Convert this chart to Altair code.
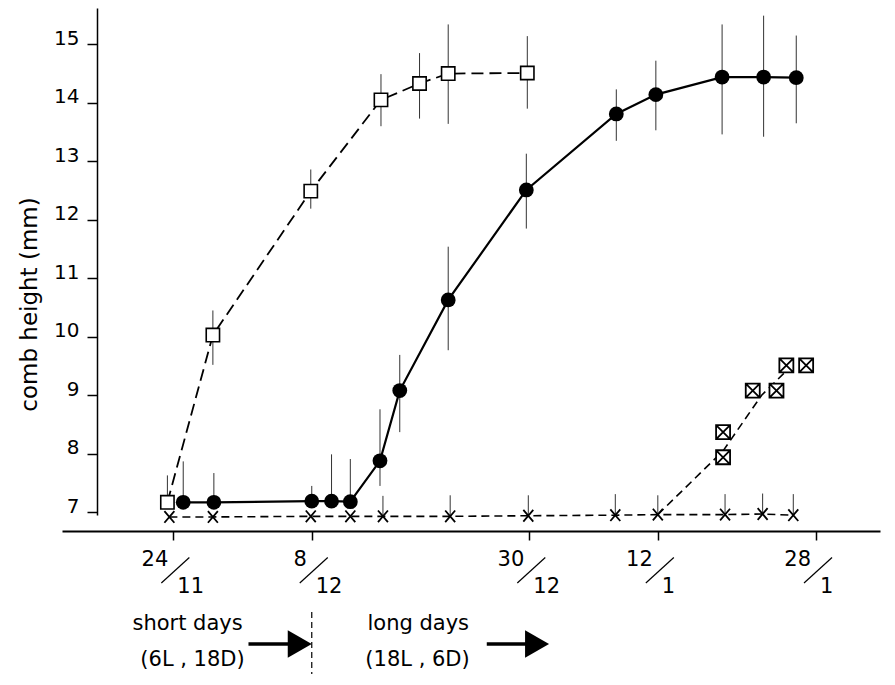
import altair as alt
import pandas as pd

# ---- data (x = days counted from 24/11, y = comb height in mm) ----
sq_day = [-0.6, 4.0, 13.9, 21.0, 24.9, 27.8, 35.8]
sq_val = [7.17, 10.03, 12.49, 14.05, 14.33, 14.50, 14.51]
sq_hi = [7.63, 10.45, 12.86, 14.49, 14.85, 15.34, 15.14]
sq_lo = [7.17, 9.52, 12.19, 13.60, 13.73, 13.64, 13.90]

ci_day = [1.0, 4.1, 14.0, 16.0, 17.9, 20.9, 22.9, 27.8, 35.7, 44.8, 48.8, 55.5, 59.7, 63.0]
ci_val = [7.17, 7.17, 7.19, 7.19, 7.18, 7.88, 9.08, 10.63, 12.51, 13.81, 14.14, 14.44, 14.44, 14.43]
ci_hi = [7.87, 7.67, 7.45, 7.99, 7.91, 8.76, 9.69, 11.54, 13.13, 14.23, 14.72, 15.34, 15.49, 15.15]
ci_lo = [7.17, 7.17, 7.19, 7.19, 7.18, 7.45, 8.37, 9.77, 11.85, 13.35, 13.53, 13.46, 13.42, 13.65]

x_day = [-0.4, 4.0, 13.9, 17.9, 21.2, 28.0, 35.9, 44.7, 49.0, 55.8, 59.6, 62.7]
x_val = [6.92, 6.92, 6.93, 6.93, 6.93, 6.93, 6.94, 6.95, 6.96, 6.96, 6.97, 6.95]
x_hi = [6.92, 6.92, 6.93, 6.93, 7.28, 7.29, 7.29, 7.31, 7.29, 7.31, 7.32, 7.31]

cx_day = [55.6, 55.6, 58.6, 61.0, 62.0, 64.0]
cx_val = [8.37, 7.94, 9.08, 9.08, 9.51, 9.51]
cx_line_day = [49.0, 55.6, 59.5, 62.2]
cx_line_val = [6.96, 8.05, 9.00, 9.45]

tick_days = [0, 14, 36, 49, 65]
tick_num = ["24", "8", "30", "12", "28"]
tick_den = ["11", "12", "12", "1", "1"]
y_ticks = [7, 8, 9, 10, 11, 12, 13, 14, 15]

switch_day = [14]
ann_top = ["short  days", "long  days"]
ann_top_day = [1.44, 24.77]
ann_bot = ["(6L , 18D)", "(18L , 6D)"]
ann_bot_day = [1.94, 24.7]
arrow_start = [7.6, 31.7]
arrow_tip = [14.0, 38.0]

# ---- frames ----
df_sq = pd.DataFrame({"day": sq_day, "val": sq_val, "hi": sq_hi, "lo": sq_lo})
df_ci = pd.DataFrame({"day": ci_day, "val": ci_val, "hi": ci_hi, "lo": ci_lo})
df_x = pd.DataFrame({"day": x_day, "val": x_val, "hi": x_hi, "lo": x_val})
df_cx = pd.DataFrame({"day": cx_day, "val": cx_val})
df_cxl = pd.DataFrame({"day": cx_line_day, "val": cx_line_val})
df_ticks = pd.DataFrame({"day": tick_days, "num": tick_num, "den": tick_den})
df_sw = pd.DataFrame({"day": switch_day})
df_top = pd.DataFrame({"day": ann_top_day, "t": ann_top})
df_bot = pd.DataFrame({"day": ann_bot_day, "t": ann_bot})
df_arr = pd.DataFrame({"start": arrow_start, "tip": arrow_tip})

FONT = "DejaVu Sans"
xscale = alt.Scale(domain=[-11.26, 71.47], nice=False, zero=False)
yscale = alt.Scale(domain=[6.953, 15.621], nice=False, zero=False)
xaxis = alt.Axis(values=tick_days, labels=False, title=None, grid=False,
                 tickSize=9, tickWidth=1.5, tickColor="black",
                 domainColor="black", domainWidth=2, offset=16)
yaxis = alt.Axis(values=y_ticks, title="comb height  (mm)", grid=False,
                 tickSize=10, tickWidth=1.5, tickColor="black",
                 domainColor="black", domainWidth=1.5, offset=-35,
                 labelFont=FONT, labelFontSize=20, labelColor="black",
                 labelBaseline="alphabetic", labelAlign="right", labelPadding=8,
                 labelOverlap=False,
                 titleFont=FONT, titleFontSize=23, titleFontWeight="normal",
                 titleColor="black", titleX=-61, titleY=296,
                 titleAlign="center", titleBaseline="alphabetic")


def X(f):
    return alt.X(f + ":Q", scale=xscale, axis=xaxis)


def Y(f):
    return alt.Y(f + ":Q", scale=yscale, axis=yaxis)


X_PATH = "M-0.85,-1L0.85,1M0.85,-1L-0.85,1"
CX_PATH = "M-1,-1L1,-1L1,1L-1,1ZM-1,-1L1,1M1,-1L-1,1"
ARROW_PATH = "M-1,-1.15L1,0L-1,1.15Z"

layers = []
# lines
layers.append(alt.Chart(df_x).mark_line(color="black", strokeWidth=1.6, strokeDash=[8, 5])
              .encode(x=X("day"), y=Y("val")))
layers.append(alt.Chart(df_cxl).mark_line(color="black", strokeWidth=1.6, strokeDash=[8, 5])
              .encode(x=X("day"), y=Y("val")))
layers.append(alt.Chart(df_sq).mark_line(color="black", strokeWidth=1.8, strokeDash=[12, 6])
              .encode(x=X("day"), y=Y("val")))
layers.append(alt.Chart(df_ci).mark_line(color="black", strokeWidth=2.2)
              .encode(x=X("day"), y=Y("val")))
# error bars
for d in (df_sq, df_ci, df_x):
    layers.append(alt.Chart(d).transform_filter("datum.hi > datum.lo")
                  .mark_rule(color="#333333", strokeWidth=1)
                  .encode(x=X("day"), y=Y("lo"), y2="hi"))
# markers
layers.append(alt.Chart(df_x).mark_point(shape=X_PATH, filled=False, stroke="black",
                                          strokeWidth=1.8, size=137, opacity=1)
              .encode(x=X("day"), y=Y("val")))
layers.append(alt.Chart(df_sq).mark_point(shape="square", filled=True, fill="white",
                                           stroke="black", strokeWidth=1.6, size=177, opacity=1)
              .encode(x=X("day"), y=Y("val")))
layers.append(alt.Chart(df_ci).mark_point(shape="circle", filled=True, fill="black",
                                           strokeWidth=0, size=219, opacity=1)
              .encode(x=X("day"), y=Y("val")))
layers.append(alt.Chart(df_cx).mark_point(shape=CX_PATH, filled=True, fill="white",
                                           stroke="black", strokeWidth=1.8, size=196, opacity=1)
              .encode(x=X("day"), y=Y("val")))
# date labels drawn as fractions
layers.append(alt.Chart(df_ticks).mark_text(font=FONT, fontSize=21, color="black",
                                             align="right", baseline="alphabetic", dx=-5)
              .encode(x=X("day"), y=alt.value(558), text="num:N"))
layers.append(alt.Chart(df_ticks).mark_text(font=FONT, fontSize=21, color="black",
                                             align="left", baseline="alphabetic", dx=4)
              .encode(x=X("day"), y=alt.value(585), text="den:N"))
layers.append(alt.Chart(df_ticks).mark_rule(color="black", strokeWidth=1.2,
                                             xOffset=-12, x2Offset=16)
              .encode(x=X("day"), x2="day", y=alt.value(575), y2=alt.value(549.5)))
# photoperiod annotation
layers.append(alt.Chart(df_sw).mark_rule(color="black", strokeWidth=1.2, strokeDash=[6, 4])
              .encode(x=X("day"), y=alt.value(604), y2=alt.value(666)))
layers.append(alt.Chart(df_top).mark_text(font=FONT, fontSize=21, color="black",
                                           align="center", baseline="alphabetic")
              .encode(x=X("day"), y=alt.value(622), text="t:N"))
layers.append(alt.Chart(df_bot).mark_text(font=FONT, fontSize=21, color="black",
                                           align="center", baseline="alphabetic")
              .encode(x=X("day"), y=alt.value(658), text="t:N"))
layers.append(alt.Chart(df_arr).mark_rule(color="black", strokeWidth=3.5, x2Offset=-20)
              .encode(x=X("start"), x2="tip", y=alt.value(636)))
layers.append(alt.Chart(df_arr).mark_point(shape=ARROW_PATH, filled=True, fill="black",
                                            strokeWidth=0, size=576, opacity=1, xOffset=-12)
              .encode(x=X("tip"), y=alt.value(636)))

chart = alt.layer(*layers).properties(
    width=818, height=507,
    autosize=alt.AutoSizeParams(type="none"),
    padding={"left": 54, "top": 0, "right": 5, "bottom": 159},
    background="white",
).configure_view(stroke=None)

chart.save("out.html", embed_options={"renderer": "svg", "actions": False})
